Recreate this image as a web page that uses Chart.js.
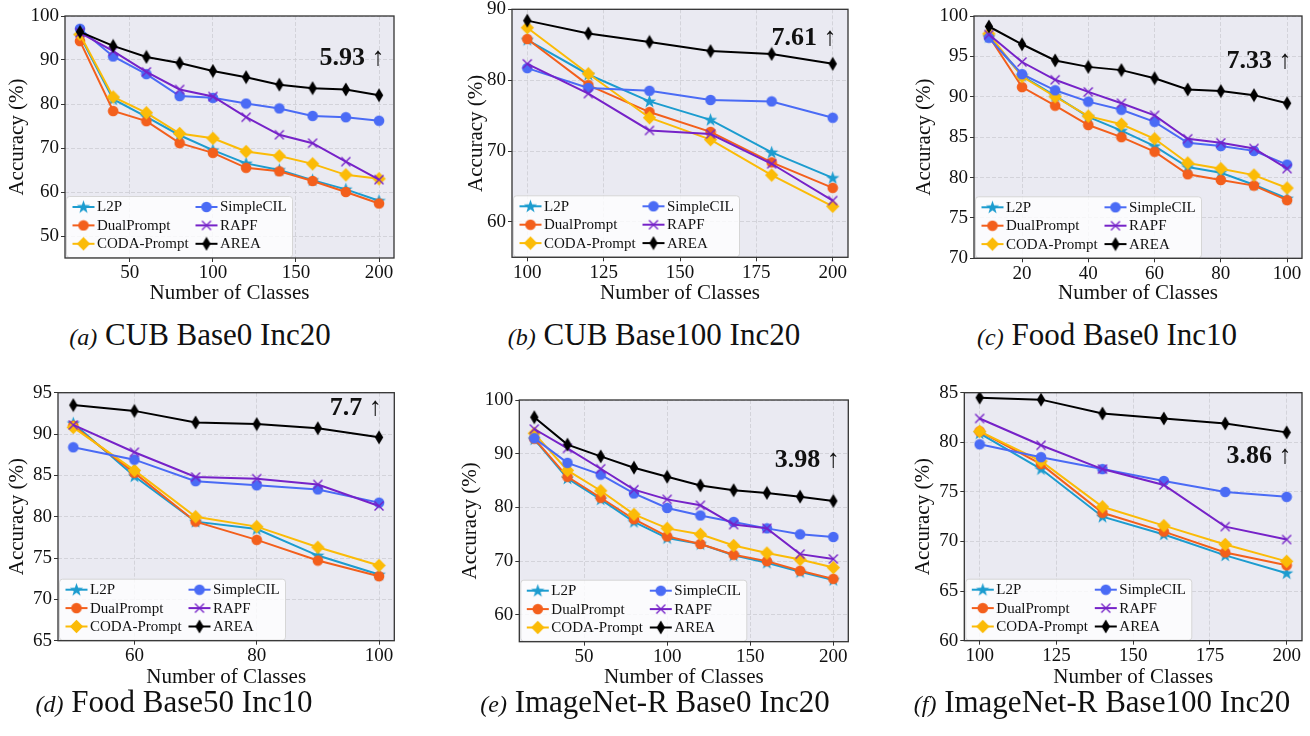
<!DOCTYPE html>
<html><head><meta charset="utf-8">
<script src="https://cdn.jsdelivr.net/npm/chart.js@4.4.0/dist/chart.umd.min.js"></script>
<style>
html,body{margin:0;padding:0;background:#fff;width:1310px;height:736px;overflow:hidden;}
body{position:relative;}
canvas.cv{position:absolute;}
.cap{position:absolute;width:600px;text-align:center;font-family:'Liberation Serif',serif;font-size:31px;line-height:31px;white-space:nowrap;color:#111;}
.cap i{font-size:24px;}
</style>
</head><body>
<script>
// ---------- data ----------
const seriesNames = ['L2P','DualPrompt','CODA-Prompt','SimpleCIL','RAPF','AREA'];
const captionTags = ['(a)','(b)','(c)','(d)','(e)','(f)'];
const captionTexts = ['CUB Base0 Inc20','CUB Base100 Inc20','Food Base0 Inc10','Food Base50 Inc10','ImageNet-R Base0 Inc20','ImageNet-R Base100 Inc20'];
const gains = ['5.93','7.61','7.33','7.7','3.98','3.86'];

// (a) CUB Base0 Inc20
const classesA = [20,40,60,80,100,120,140,160,180,200];
const a_L2P   = [95.5,81.1,77.1,72.9,69.5,66.5,65.0,62.7,60.6,58.0];
const a_Dual  = [94.3,78.4,76.1,71.1,68.9,65.5,64.7,62.5,60.0,57.4];
const a_CODA  = [95.8,81.6,78.0,73.3,72.2,69.2,68.2,66.4,63.9,63.0];
const a_Simple= [97.1,90.8,86.8,81.8,81.4,80.1,79.0,77.3,77.0,76.2];
const a_RAPF  = [96.2,92.0,87.3,83.3,81.7,77.0,73.0,71.1,66.9,62.8];
const a_AREA  = [96.4,93.2,90.7,89.3,87.5,86.1,84.4,83.6,83.3,82.0];
const xTicksA = [50,100,150,200];
const yTicksA = [50,60,70,80,90,100];

// (b) CUB Base100 Inc20
const classesB = [100,120,140,160,180,200];
const b_L2P   = [85.7,80.8,77.0,74.4,69.8,66.2];
const b_Dual  = [85.8,79.3,75.5,72.7,68.4,64.8];
const b_CODA  = [87.4,80.9,74.7,71.6,66.6,62.2];
const b_Simple= [81.7,78.9,78.5,77.2,77.0,74.7];
const b_RAPF  = [82.3,78.1,72.9,72.4,68.2,63.0];
const b_AREA  = [88.4,86.6,85.4,84.1,83.7,82.3];
const xTicksB = [100,125,150,175,200];
const yTicksB = [60,70,80,90];

// (c) Food Base0 Inc10
const classesC = [10,20,30,40,50,60,70,80,90,100];
const c_L2P   = [97.4,92.6,90.1,87.5,85.8,83.9,81.3,80.6,79.1,77.4];
const c_Dual  = [97.5,91.2,88.9,86.5,85.0,83.2,80.4,79.7,79.0,77.2];
const c_CODA  = [97.8,92.5,90.0,87.6,86.6,84.8,81.8,81.1,80.3,78.7];
const c_Simple= [97.3,92.8,90.8,89.4,88.4,86.9,84.3,83.9,83.3,81.6];
const c_RAPF  = [97.7,94.3,92.1,90.6,89.2,87.7,84.8,84.3,83.6,81.1];
const c_AREA  = [98.7,96.5,94.5,93.7,93.3,92.3,90.9,90.7,90.2,89.2];
const xTicksC = [20,40,60,80,100];
const yTicksC = [70,75,80,85,90,95,100];

// (d) Food Base50 Inc10
const classesD = [50,60,70,80,90,100];
const d_L2P   = [91.3,84.9,79.4,78.5,75.3,73.0];
const d_Dual  = [91.0,85.3,79.4,77.2,74.7,72.8];
const d_CODA  = [90.8,85.6,80.0,78.8,76.3,74.1];
const d_Simple= [88.4,86.9,84.3,83.8,83.3,81.7];
const d_RAPF  = [91.1,87.8,84.8,84.6,83.9,81.3];
const d_AREA  = [93.5,92.8,91.4,91.2,90.7,89.6];
const xTicksD = [60,80,100];
const yTicksD = [65,70,75,80,85,90,95];

// (e) ImageNet-R Base0 Inc20
const classesE = [20,40,60,80,100,120,140,160,180,200];
const e_L2P   = [92.7,85.4,81.5,77.3,74.3,73.2,71.1,69.7,68.0,66.5];
const e_Dual  = [92.8,85.7,81.8,77.8,74.6,73.2,71.2,70.0,68.2,66.7];
const e_CODA  = [93.8,86.9,83.1,78.7,76.1,75.0,72.9,71.5,70.3,68.8];
const e_Simple= [92.9,88.3,86.1,82.6,79.9,78.5,77.3,76.1,75.0,74.5];
const e_RAPF  = [94.6,91.0,87.2,83.3,81.5,80.4,76.8,76.1,71.3,70.4];
const e_AREA  = [96.8,91.7,89.5,87.4,85.7,84.1,83.2,82.7,82.0,81.2];
const xTicksE = [50,100,150,200];
const yTicksE = [60,70,80,90,100];

// (f) ImageNet-R Base100 Inc20
const classesF = [100,120,140,160,180,200];
const f_L2P   = [80.9,77.3,72.5,70.7,68.6,66.8];
const f_Dual  = [81.1,77.8,72.9,71.0,68.9,67.6];
const f_CODA  = [81.1,78.1,73.5,71.6,69.7,68.0];
const f_Simple= [79.8,78.5,77.3,76.1,75.0,74.5];
const f_RAPF  = [82.4,79.7,77.3,75.7,71.5,70.2];
const f_AREA  = [84.5,84.3,82.9,82.4,81.9,81.0];
const xTicksF = [100,125,150,175,200];
const yTicksF = [60,65,70,75,80,85];

// ---------- styles ----------
const FONT = "'Liberation Serif', 'Times New Roman', serif";
const colors = ['#1c9ccf','#f35f1c','#fbbb07','#4a6bf5','#7622c8','#000000'];

function mk(w,h,draw){const c=document.createElement('canvas');c.width=w;c.height=h;draw(c.getContext('2d'),w,h);return c;}
function starImg(col){return mk(15,15,(g)=>{g.fillStyle=col;g.beginPath();for(let k=0;k<10;k++){const r=k%2?2.8:7;const an=-Math.PI/2+k*Math.PI/5;g.lineTo(7.5+r*Math.cos(an),7.8+r*Math.sin(an));}g.closePath();g.fill();});}
function circleImg(col){return mk(12,12,(g)=>{g.fillStyle=col;g.beginPath();g.arc(6,6,5.3,0,Math.PI*2);g.fill();});}
function diamondImg(col){return mk(15,15,(g)=>{g.fillStyle=col;g.beginPath();g.moveTo(7.5,0.8);g.lineTo(14.2,7.5);g.lineTo(7.5,14.2);g.lineTo(0.8,7.5);g.closePath();g.fill();});}
function xImg(col){return mk(12,12,(g)=>{g.strokeStyle=col;g.lineWidth=1.4;g.beginPath();g.moveTo(1.5,1.5);g.lineTo(10.5,10.5);g.moveTo(10.5,1.5);g.lineTo(1.5,10.5);g.stroke();});}
function thinDiamondImg(col){return mk(10,15,(g)=>{g.fillStyle=col;g.beginPath();g.moveTo(5,0.5);g.lineTo(9.2,7.5);g.lineTo(5,14.5);g.lineTo(0.8,7.5);g.closePath();g.fill();});}
const markers = [starImg(colors[0]),circleImg(colors[1]),diamondImg(colors[2]),circleImg(colors[3]),xImg(colors[4]),thinDiamondImg(colors[5])];

const decorPlugin = {
  id:'decor',
  beforeDraw(chart){
    const {ctx, chartArea:a} = chart;
    ctx.save(); ctx.fillStyle='#eaeaf2'; ctx.fillRect(a.left,a.top,a.right-a.left,a.bottom-a.top); ctx.restore();
  },
  afterDatasetsDraw(chart, args, opts){
    const {ctx, chartArea:a} = chart;
    ctx.save();
    // legend
    const bx=a.left+1.5, bw=226, bh=61, by=a.bottom-bh-0.5;
    ctx.beginPath();
    if (ctx.roundRect) ctx.roundRect(bx,by,bw,bh,3); else ctx.rect(bx,by,bw,bh);
    ctx.fillStyle='rgba(255,255,255,0.8)'; ctx.fill();
    ctx.strokeStyle='#d6d6d6'; ctx.lineWidth=1; ctx.stroke();
    ctx.font = "15px " + FONT; ctx.textBaseline='middle'; ctx.textAlign='left';
    chart.data.datasets.forEach((ds,i)=>{
      const col=Math.floor(i/3), row=i%3;
      const x0=bx+(col?129:6), y=by+10.5+row*18.4;
      ctx.strokeStyle=ds.borderColor; ctx.lineWidth=2; ctx.setLineDash([]);
      ctx.beginPath(); ctx.moveTo(x0,y); ctx.lineTo(x0+22,y); ctx.stroke();
      const im=ds.pointStyle; ctx.drawImage(im, x0+11-im.width/2, y-im.height/2);
      ctx.fillStyle='#111'; ctx.fillText(ds.label, x0+24.5, y+0.5);
    });
    // frame
    ctx.strokeStyle='#333'; ctx.lineWidth=1.3;
    ctx.strokeRect(a.left,a.top,a.right-a.left,a.bottom-a.top);
    // gain annotation
    const nx=a.right-opts.dx, ny=a.top+opts.dy;
    ctx.fillStyle='#111'; ctx.textBaseline='alphabetic';
    ctx.font="bold 26px " + FONT; ctx.textAlign='right'; ctx.fillText(opts.text, nx, ny);
    ctx.font="26px " + FONT; ctx.textAlign='center'; ctx.fillText('\u2191', nx+13, ny);
    ctx.restore();
  }
};

const panels = [
  {xs:classesA, ys:[a_L2P,a_Dual,a_CODA,a_Simple,a_RAPF,a_AREA], xt:xTicksA, yt:yTicksA, xmin:11, xmax:209, ymin:45, ymax:100,
   L:65, T:16, R:394, B:258, ytc:17, xtc:293, dx:29, dy:49},
  {xs:classesB, ys:[b_L2P,b_Dual,b_CODA,b_Simple,b_RAPF,b_AREA], xt:xTicksB, yt:yTicksB, xmin:95, xmax:205, ymin:55, ymax:90,
   L:512, T:9.3, R:848, B:257.3, ytc:476, xtc:293, dx:31, dy:35.7},
  {xs:classesC, ys:[c_L2P,c_Dual,c_CODA,c_Simple,c_RAPF,c_AREA], xt:xTicksC, yt:yTicksC, xmin:5.5, xmax:104.5, ymin:70, ymax:100,
   L:974, T:16, R:1302, B:258.3, ytc:924, xtc:293, dx:30, dy:52},
  {xs:classesD, ys:[d_L2P,d_Dual,d_CODA,d_Simple,d_RAPF,d_AREA], xt:xTicksD, yt:yTicksD, xmin:47.5, xmax:102.5, ymin:65, ymax:95,
   L:58, T:392.7, R:394.3, B:640.7, ytc:17, xtc:677, dx:32, dy:22.3},
  {xs:classesE, ys:[e_L2P,e_Dual,e_CODA,e_Simple,e_RAPF,e_AREA], xt:xTicksE, yt:yTicksE, xmin:11, xmax:209, ymin:55, ymax:100,
   L:519.3, T:400, R:848.3, B:641.7, ytc:470, xtc:677, dx:28, dy:66.7},
  {xs:classesF, ys:[f_L2P,f_Dual,f_CODA,f_Simple,f_RAPF,f_AREA], xt:xTicksF, yt:yTicksF, xmin:95, xmax:205, ymin:60, ymax:85,
   L:964.3, T:392.7, R:1302, B:640.7, ytc:923, xtc:677, dx:30, dy:70.6}
];
const capCenters = [200,654,1107,174,655,1102];
const capBaselines = [345,345,345,711.5,711.5,711.5];

function axisCommon(){
  return {
    grid:{color:'#cdcdd3', lineWidth:0.8, drawTicks:true, tickLength:4, tickColor:'#333', tickWidth:1, tickBorderDash:[]},
    border:{display:false, dash:[4,2]},
  };
}

panels.forEach((p,pi)=>{
  const cl = Math.round(p.ytc - 10.5);
  const ct = Math.round(p.T - 12);
  const padTop = p.T - ct;
  const W = Math.round(p.R + 14 - cl);
  const padRight = cl + W - p.R;
  const H = Math.round(p.xtc + 10.5 - ct);
  const xh = ct + H - p.B;
  const yw = p.L - cl;
  const cv = document.createElement('canvas');
  cv.className='cv'; cv.width=W; cv.height=H;
  cv.style.left=cl+'px'; cv.style.top=ct+'px'; cv.style.width=W+'px'; cv.style.height=H+'px';
  document.body.appendChild(cv);
  const datasets = p.ys.map((s,i)=>({
    label: seriesNames[i],
    data: p.xs.map((x,j)=>({x:x, y:s[j]})),
    borderColor: colors[i], backgroundColor: colors[i], borderWidth:2,
    pointStyle: markers[i], pointRadius:5, pointHoverRadius:5, order: 6-i, tension:0
  }));
  const ax = axisCommon(), ay = axisCommon();
  new Chart(cv, {
    type:'line',
    data:{datasets},
    options:{
      responsive:false, animation:false, events:[],
      layout:{padding:{left:0, top:padTop, right:padRight, bottom:0}},
      plugins:{legend:{display:false}, tooltip:{enabled:false}, decor:{text:gains[pi], dx:p.dx, dy:p.dy}},
      scales:{
        x:{type:'linear', min:p.xmin, max:p.xmax,
           afterBuildTicks:(s)=>{s.ticks=p.xt.map(v=>({value:v}));},
           afterFit:(s)=>{s.height=xh;},
           grid:ax.grid, border:ax.border,
           ticks:{font:{family:FONT,size:19,lineHeight:1}, color:'#111', padding:2, maxRotation:0, autoSkip:false},
           title:{display:true, text:'Number of Classes', font:{family:FONT,size:21,lineHeight:1}, color:'#111', padding:0}},
        y:{type:'linear', min:p.ymin, max:p.ymax,
           afterBuildTicks:(s)=>{s.ticks=p.yt.map(v=>({value:v}));},
           afterFit:(s)=>{s.width=yw;},
           grid:ay.grid, border:ay.border,
           ticks:{font:{family:FONT,size:19,lineHeight:1}, color:'#111', padding:2, autoSkip:false},
           title:{display:true, text:'Accuracy (%)', font:{family:FONT,size:21,lineHeight:1}, color:'#111', padding:0}}
      }
    },
    plugins:[decorPlugin]
  });
  const cap = document.createElement('div');
  cap.className='cap';
  cap.style.left=(capCenters[pi]-300)+'px';
  cap.style.top=(capBaselines[pi]-26)+'px';
  const it=document.createElement('i'); it.textContent=captionTags[pi];
  cap.appendChild(it); cap.appendChild(document.createTextNode(' '+captionTexts[pi]));
  document.body.appendChild(cap);
});
</script>
</body></html>
